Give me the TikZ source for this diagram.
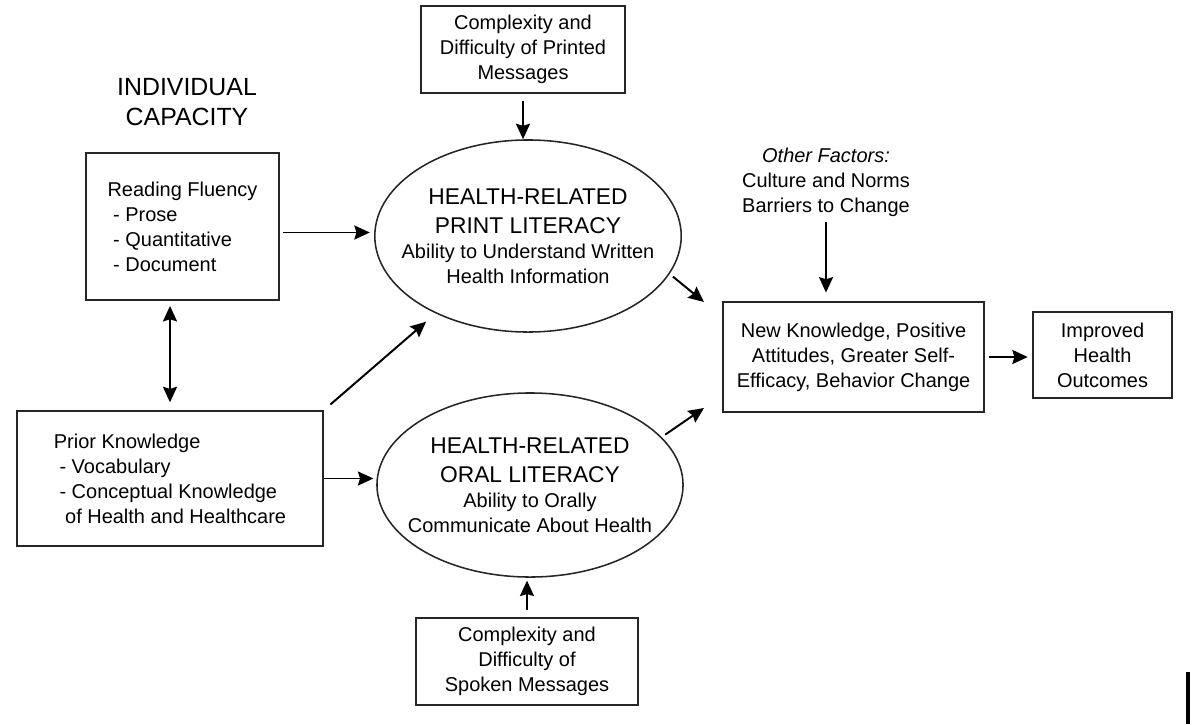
\documentclass[tikz,border=0pt]{standalone}
\usepackage{fontspec}
\setmainfont{Liberation Sans}
\usetikzlibrary{arrows.meta,calc,shapes.geometric}
\newcommand{\ttl}[1]{{\fontsize{16.2}{21}\selectfont #1}}

\begin{document}
\begin{tikzpicture}[x=0.025cm, y=-0.025cm, >={Stealth[length=11pt,width=10pt,inset=1.5pt]},
    every node/.style={font=\fontsize{14.2}{17.8}\selectfont, inner sep=0pt},
    box/.style={rectangle, draw=black!85, line width=1.4pt, align=center},
    oval/.style={ellipse, draw=black!85, line width=1.1pt, align=center, inner sep=-0.45cm, minimum width=7.65cm},
    link/.style={->, line width=1.4pt}]

  \useasboundingbox (0,0) rectangle (1200,724);

  \node[align=center, font=\fontsize{17.7}{21.3}\selectfont] (IC) at (187,102) {INDIVIDUAL\\CAPACITY};

  \node[box, align=left, minimum width=4.825cm, minimum height=3.675cm] (RF) at (182.5,226.5)
    {Reading Fluency\\ \hspace*{4pt}- Prose\\ \hspace*{4pt}- Quantitative\\ \hspace*{4pt}- Document};
  \node[box, align=left, minimum width=7.65cm, minimum height=3.375cm] (PK) at (170,478.5)
    {Prior Knowledge\\ \hspace*{4pt}- Vocabulary\\ \hspace*{4pt}- Conceptual Knowledge\\ \hspace*{8pt}of Health and Healthcare};

  \node[box, minimum width=5.1cm, minimum height=2.175cm] (PM) at (523,49.5)
    {Complexity and\\Difficulty of Printed\\Messages};
  \node[box, minimum width=5.55cm, minimum height=2.175cm] (SM) at (527,661.5)
    {Complexity and\\Difficulty of\\Spoken Messages};

  \node[oval, minimum height=4.8cm] (PL) at (528,236)
    {\ttl{HEALTH-RELATED}\\[3pt] \ttl{PRINT LITERACY}\\ Ability to Understand Written\\ Health Information};
  \node[oval, minimum height=4.6cm] (OL) at (530,485)
    {\ttl{HEALTH-RELATED}\\[3pt] \ttl{ORAL LITERACY}\\ Ability to Orally\\ Communicate About Health};

  \node[align=center] (OF) at (826,182) {\textit{Other Factors:}\\Culture and Norms\\Barriers to Change};
  \node[box, minimum width=6.525cm, minimum height=2.75cm] (NK) at (853.5,357)
    {New Knowledge, Positive\\Attitudes, Greater Self-\\Efficacy, Behavior Change};
  \node[box, minimum width=3.475cm, minimum height=2.15cm] (HO) at (1102.5,355)
    {Improved\\Health\\Outcomes};

  \draw[link, shorten <=2pt, shorten >=3pt] ($(RF.east)+(0,6)$) -- ($(RF.east -| PL.west)+(0,6)$);
  \draw[link, shorten <=5pt] (PM) -- (PM |- PL.north);
  \draw[<->, line width=1.4pt, shorten <=3.5pt, shorten >=5.5pt] (RF.south -| PK.north) -- (PK.north);
  \draw[link, shorten <=6pt, shorten >=9pt] (PK.north east) -- (PL.220);
  \draw[link, shorten >=2pt] (PK.east) -- (PK.east -| OL.west);
  \draw[link, shorten <=5pt, shorten >=2pt] (SM) -- (SM |- OL.south);
  \draw[link, shorten <=3pt] (PL.-15) -- ($(NK.north west)+(-18,1)$);
  \draw[link, shorten <=3pt] (OL.20) -- ($(NK.south west)+(-18,-5)$);
  \draw[link, shorten <=4pt, shorten >=6pt] (OF) -- (OF |- NK.north);
  \draw[link, shorten <=3pt, shorten >=3pt] (NK.east) -- (NK.east -| HO.west);

  \draw[line width=3pt] (1188,672) -- (1188,724);

\end{tikzpicture}
\end{document}
